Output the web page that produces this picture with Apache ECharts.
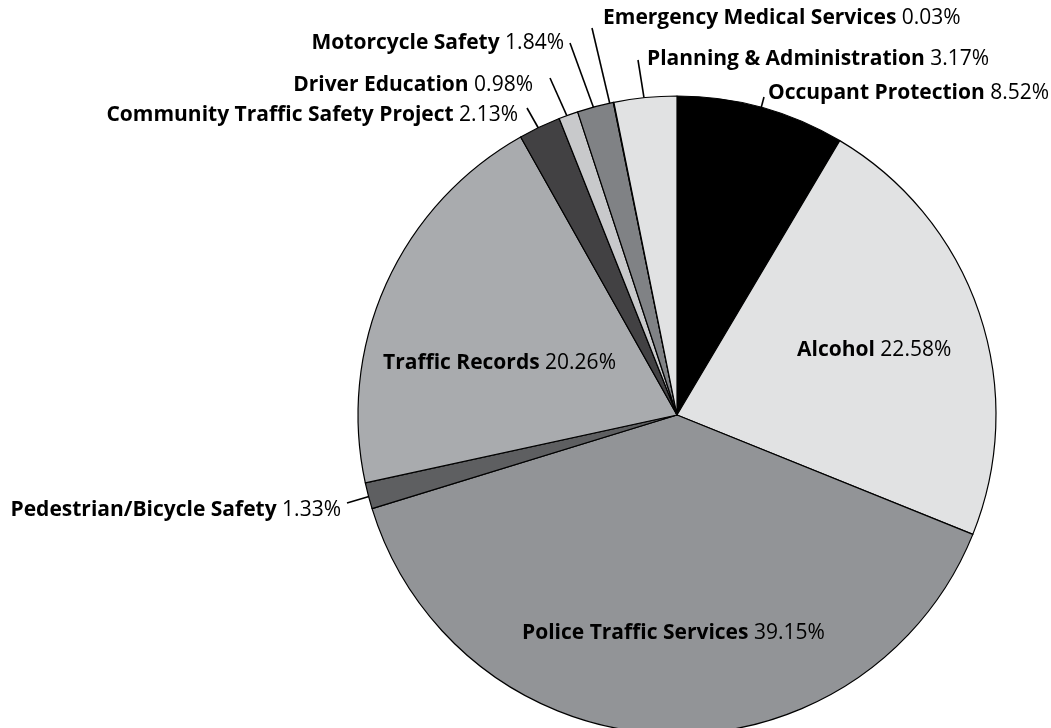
<!DOCTYPE html>
<html>
<head>
<meta charset="utf-8">
<script src="https://cdn.jsdelivr.net/npm/echarts@6/dist/echarts.min.js"></script>
<style>
  html, body { margin: 0; padding: 0; background: #fff; }
  #chart { width: 1051px; height: 728px; }
</style>
</head>
<body>
<div id="chart"></div>
<script>
// 分类名称（从12点方向顺时针）
const categories = [
  'Occupant Protection',
  'Alcohol',
  'Police Traffic Services',
  'Pedestrian/Bicycle Safety',
  'Traffic Records',
  'Community Traffic Safety Project',
  'Driver Education',
  'Motorcycle Safety',
  'Emergency Medical Services',
  'Planning & Administration'
]
// 百分比
const shares = [8.52, 22.58, 39.15, 1.33, 20.26, 2.13, 0.98, 1.84, 0.03, 3.17]
// 扇区颜色
const sliceColors = ['#000000', '#e1e2e3', '#929497', '#5e5f61', '#a9abae', '#424143', '#c8c9cb', '#808285', '#58595b', '#e1e2e3']

// 标签位置（x, y, 对齐, 引导线起点, 引导线终点半径比例）
const labelPos = [
  { x: 768, y: 93, align: 'left', from: [764, 97], depth: 0.95 },
  { x: 797, y: 350, align: 'left' },
  { x: 522, y: 633, align: 'left' },
  { x: 341, y: 510, align: 'right', from: [347, 503], depth: 0.93 },
  { x: 383, y: 363, align: 'left' },
  { x: 518, y: 115, align: 'right', from: [527, 108], depth: 0.93 },
  { x: 533, y: 85, align: 'right', from: [550, 78], depth: 0.93 },
  { x: 564, y: 43, align: 'right', from: [570, 43], depth: 0.93 },
  { x: 603, y: 18, align: 'left', from: [592, 28], depth: 0.6 },
  { x: 647, y: 59, align: 'left', from: [638, 60], depth: 0.93 }
]

const center = [677, 415]
const radius = 319
const fontName = 'Open Sans'
const fontSize = 21

const total = shares.reduce((a, b) => a + b, 0)
// 每个扇区的中线角度（从12点方向顺时针，弧度）
const midAngles = []
let acc = 0
shares.forEach(v => {
  midAngles.push((acc + v / 2) / total * Math.PI * 2)
  acc += v
})

const chart = echarts.init(document.getElementById('chart'))
const option = {
  animation: false,
  series: [
    {
      type: 'pie',
      center: center,
      radius: radius,
      startAngle: 90,
      clockwise: true,
      avoidLabelOverlap: false,
      itemStyle: {
        borderColor: '#000',
        borderWidth: 1.2
      },
      label: {
        show: true,
        position: 'outside',
        color: '#000',
        fontFamily: fontName,
        fontSize: fontSize,
        formatter: p => '{b|' + p.name + '} {c|' + p.value.toFixed(2) + '%}',
        rich: {
          b: { fontFamily: fontName, fontWeight: 'bold', fontSize: fontSize, color: '#000' },
          c: { fontFamily: fontName, fontSize: fontSize, color: '#000' }
        }
      },
      labelLine: {
        show: true,
        lineStyle: { color: '#000', width: 1.6 }
      },
      labelLayout: params => {
        const pos = labelPos[params.dataIndex]
        const res = { x: pos.x, y: pos.y, align: pos.align, verticalAlign: 'middle' }
        if (pos.from) {
          const a = midAngles[params.dataIndex]
          const r = radius * pos.depth
          const end = [center[0] + r * Math.sin(a), center[1] - r * Math.cos(a)]
          res.labelLinePoints = [pos.from, end, end]
        }
        return res
      },
      emphasis: { disabled: true },
      data: categories.map((name, i) => ({
        name: name,
        value: shares[i],
        itemStyle: { color: sliceColors[i] },
        labelLine: { show: !!labelPos[i].from }
      }))
    }
  ]
}
chart.setOption(option)
</script>
</body>
</html>
